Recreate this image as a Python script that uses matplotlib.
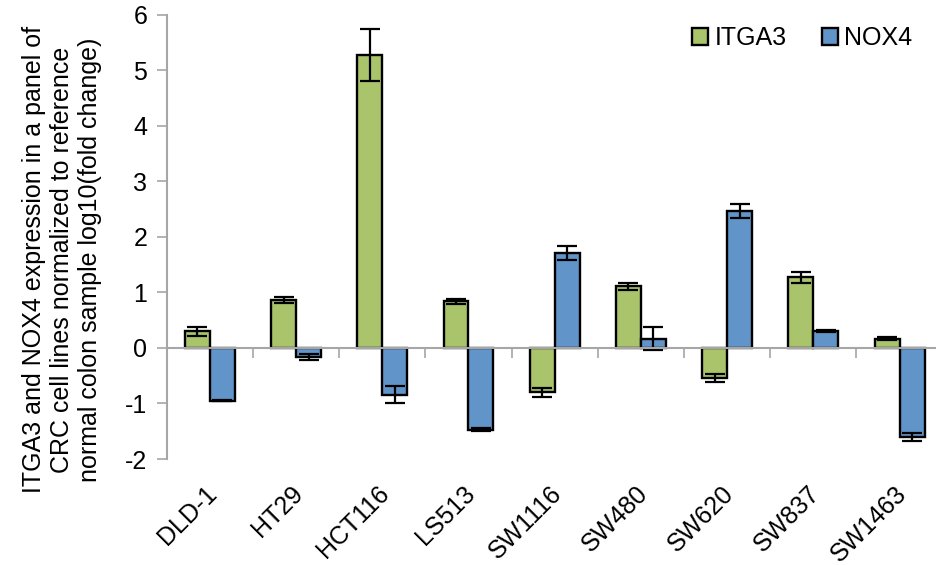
import matplotlib
matplotlib.use("Agg")
import matplotlib.pyplot as plt
import numpy as np

plt.rcParams["font.family"] = ["Liberation Sans", "DejaVu Sans"]
plt.rcParams["axes.unicode_minus"] = False

cell_lines = ["DLD-1", "HT29", "HCT116", "LS513", "SW1116",
              "SW480", "SW620", "SW837", "SW1463"]
itga3 = [0.30, 0.86, 5.28, 0.84, -0.80, 1.11, -0.54, 1.27, 0.17]
itga3_err = [0.08, 0.05, 0.47, 0.04, 0.08, 0.06, 0.08, 0.10, 0.02]
nox4 = [-0.95, -0.16, -0.84, -1.47, 1.71, 0.17, 2.47, 0.30, -1.60]
nox4_err = [0.01, 0.06, 0.15, 0.03, 0.12, 0.20, 0.13, 0.02, 0.07]

GREEN = "#A9C46B"
BLUE = "#6194C8"
GREY = "#A6A6A6"
FS = 18

fig = plt.figure(figsize=(9.37, 5.65), dpi=100)
ax = fig.add_axes([0.178, 0.1876, 0.828, 0.786])

x = np.arange(len(cell_lines))
w = 0.29
err_kw = dict(ecolor="black", elinewidth=1.6, capsize=7, capthick=1.6)
ax.bar(x - w / 2, itga3, w, yerr=itga3_err, color=GREEN, edgecolor="black",
       linewidth=1.7, label="ITGA3", error_kw=err_kw, zorder=3)
ax.bar(x + w / 2, nox4, w, yerr=nox4_err, color=BLUE, edgecolor="black",
       linewidth=1.7, label="NOX4", error_kw=err_kw, zorder=3)

ax.set_xlim(-0.5, len(cell_lines) - 0.5)
ax.set_ylim(-2, 6)
ax.set_yticks(range(-2, 7))
ax.tick_params(axis="y", direction="out", length=7, width=1.2, color=GREY,
               labelsize=FS, pad=7)

# x axis sits on zero, ticks between the groups
for s in ("top", "right"):
    ax.spines[s].set_visible(False)
ax.spines["left"].set_color(GREY)
ax.spines["left"].set_linewidth(1.5)
ax.spines["bottom"].set_position(("data", 0))
ax.spines["bottom"].set_color(GREY)
ax.spines["bottom"].set_linewidth(1.5)
ax.spines["bottom"].set_zorder(4)
ax.set_xticks(np.arange(-0.5, len(cell_lines), 1.0))
ax.set_xticklabels([])
ax.tick_params(axis="x", direction="out", length=7, width=1.2, color=GREY)

for i, name in enumerate(cell_lines):
    ax.annotate(name, xy=(i, -2), xycoords="data", xytext=(-4, -16),
                textcoords="offset points", rotation=45, ha="right",
                va="top", rotation_mode="anchor", fontsize=FS,
                annotation_clip=False)

fig.text(0.066, 0.54,
         "ITGA3 and NOX4 expression in a panel of\n"
         "CRC cell lines normalized to reference\n"
         "normal colon sample log10(fold change)",
         rotation=90, ha="center", va="center", multialignment="center",
         fontsize=FS, linespacing=1.2)

ax.legend(loc="upper right", bbox_to_anchor=(0.961, 0.975), ncol=2,
          frameon=False, fontsize=FS, handlelength=0.65, handleheight=0.65,
          handletextpad=0.25, columnspacing=1.4, borderaxespad=0,
          borderpad=0)

fig.savefig("out.png", dpi=100)
